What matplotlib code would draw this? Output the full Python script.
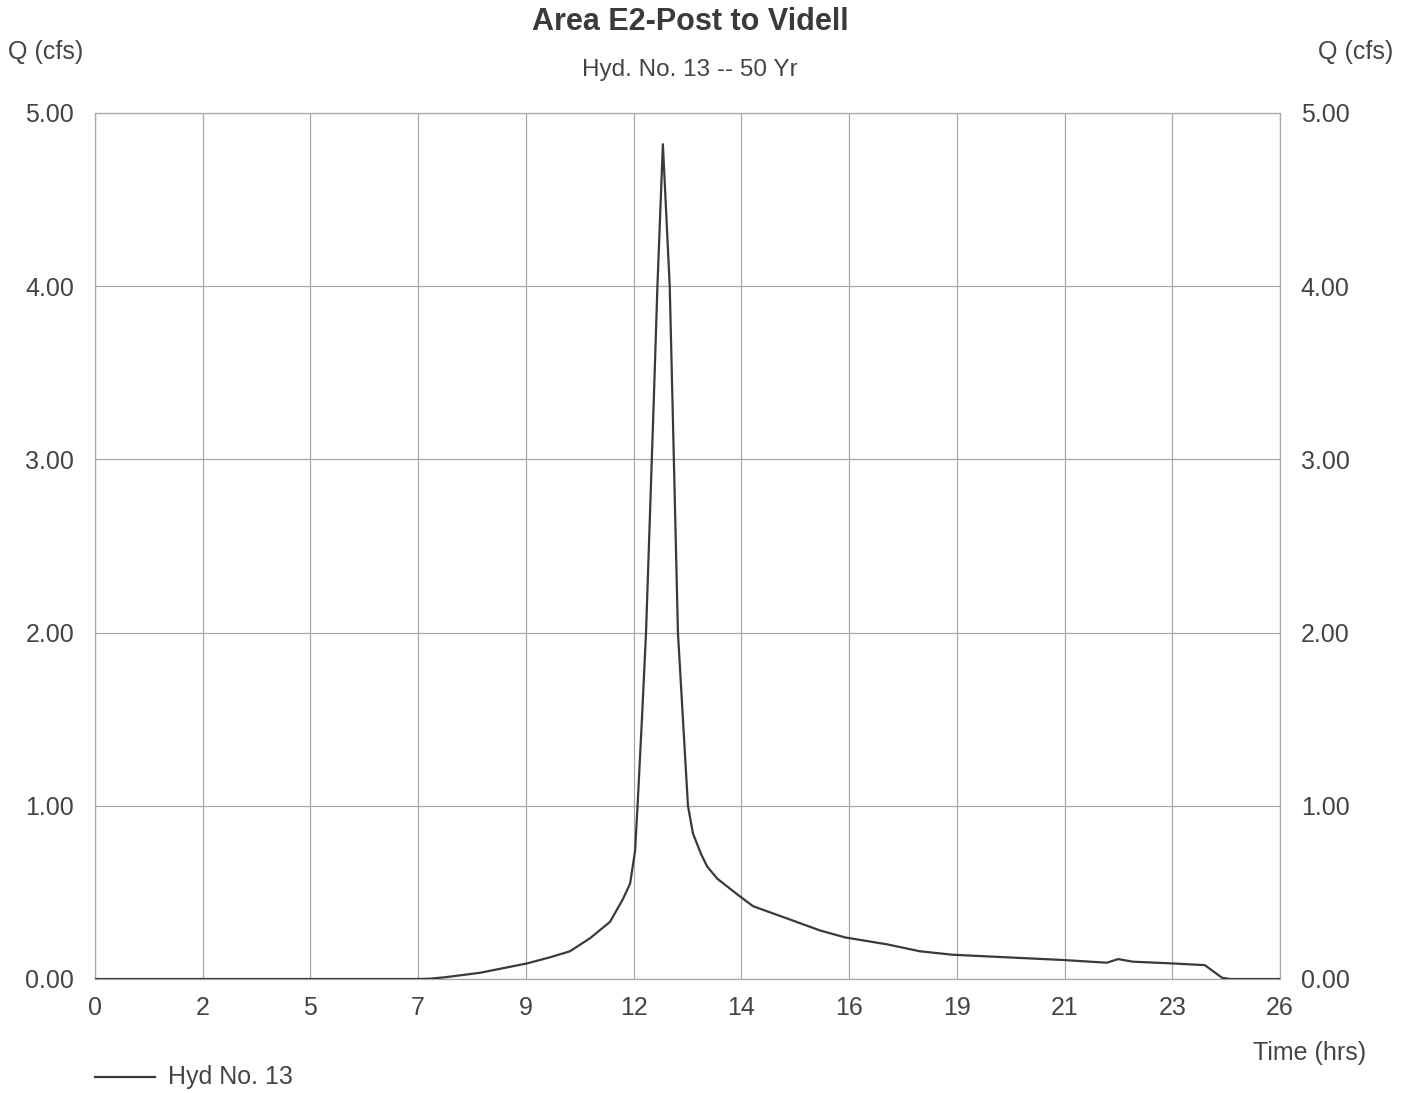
import matplotlib
matplotlib.use("Agg")
import matplotlib.pyplot as plt
import numpy as np
from matplotlib.lines import Line2D

plt.rcParams['font.family'] = ['Liberation Sans', 'DejaVu Sans']

# Hydrograph data (time in hrs, Q in cfs)
time_hrs = [0, 7.09, 7.35, 7.68, 8.45, 9.48, 9.98, 10.42, 10.86, 11.30, 11.58, 11.74, 11.85,
            11.91, 12.00, 12.09, 12.26, 12.34, 12.46, 12.61, 12.67, 12.79, 13.01,
            13.12, 13.30, 13.43, 13.65, 14.11, 14.44, 15.18, 15.91, 16.46, 17.38, 18.10,
            18.82, 21.22, 22.20, 22.45, 22.77, 23.63, 24.35, 24.73, 24.9, 26.0]
q_cfs = [0, 0, 0.002, 0.01, 0.036, 0.09, 0.125, 0.16, 0.235, 0.33, 0.46, 0.55, 0.74,
         1.03, 1.5, 2.0, 3.34, 4.0, 4.82, 4.0, 3.34, 2.0, 1.0,
         0.84, 0.72, 0.65, 0.58, 0.485, 0.42, 0.35, 0.28, 0.24, 0.20, 0.16,
         0.14, 0.11, 0.094, 0.115, 0.10, 0.09, 0.08, 0.007, 0.0, 0.0]

x_tick_labels = ["0", "2", "5", "7", "9", "12", "14", "16", "19", "21", "23", "26"]
y_ticks = [0, 1, 2, 3, 4, 5]
y_tick_labels = ["0.00", "1.00", "2.00", "3.00", "4.00", "5.00"]

title = "Area E2-Post to Videll"
subtitle = "Hyd. No. 13 -- 50 Yr"
series_name = "Hyd No. 13"

fig = plt.figure(figsize=(14.13, 10.93), dpi=100)
ax = fig.add_axes([95/1413, 1-979/1093, (1280-95)/1413, (979-113)/1093])

line_color = "#3a3a3a"
grid_color = "#a8a8a8"
text_color = "#444444"

ax.plot(time_hrs, q_cfs, color=line_color, lw=1.6, zorder=3)
ax.set_xlim(0, 26)
ax.set_ylim(0, 5)
ax.set_xticks(np.linspace(0, 26, len(x_tick_labels)))
ax.set_xticklabels(x_tick_labels)
ax.set_yticks(y_ticks)
ax.set_yticklabels(y_tick_labels)
ax.tick_params(axis='both', length=0, labelsize=18, colors=text_color)
ax.tick_params(axis='x', pad=12)
ax.tick_params(axis='y', pad=15, labelright=True)
ax.grid(True, color=grid_color, lw=0.9)
for s in ax.spines.values():
    s.set_color(grid_color)
    s.set_linewidth(0.9)

fig.text(690/1413, 1-22/1093, title, ha='center', va='center', fontsize=22,
         fontweight='bold', color="#3a3a3a")
fig.text(690/1413, 1-70/1093, subtitle, ha='center', va='center', fontsize=17.5,
         color=text_color)
fig.text(8/1413, 1-52/1093, "Q (cfs)", ha='left', va='center', fontsize=18, color=text_color)
fig.text(1393/1413, 1-52/1093, "Q (cfs)", ha='right', va='center', fontsize=18, color=text_color)
fig.text(1366/1413, 1-1053/1093, "Time (hrs)", ha='right', va='center', fontsize=18, color=text_color)

fig.add_artist(Line2D([95/1413, 155/1413], [1-1077/1093, 1-1077/1093],
                      color=line_color, lw=1.6, transform=fig.transFigure))
fig.text(168/1413, 1-1077/1093, series_name, ha='left', va='center', fontsize=18, color=text_color)

fig.savefig("out.png", dpi=100)
